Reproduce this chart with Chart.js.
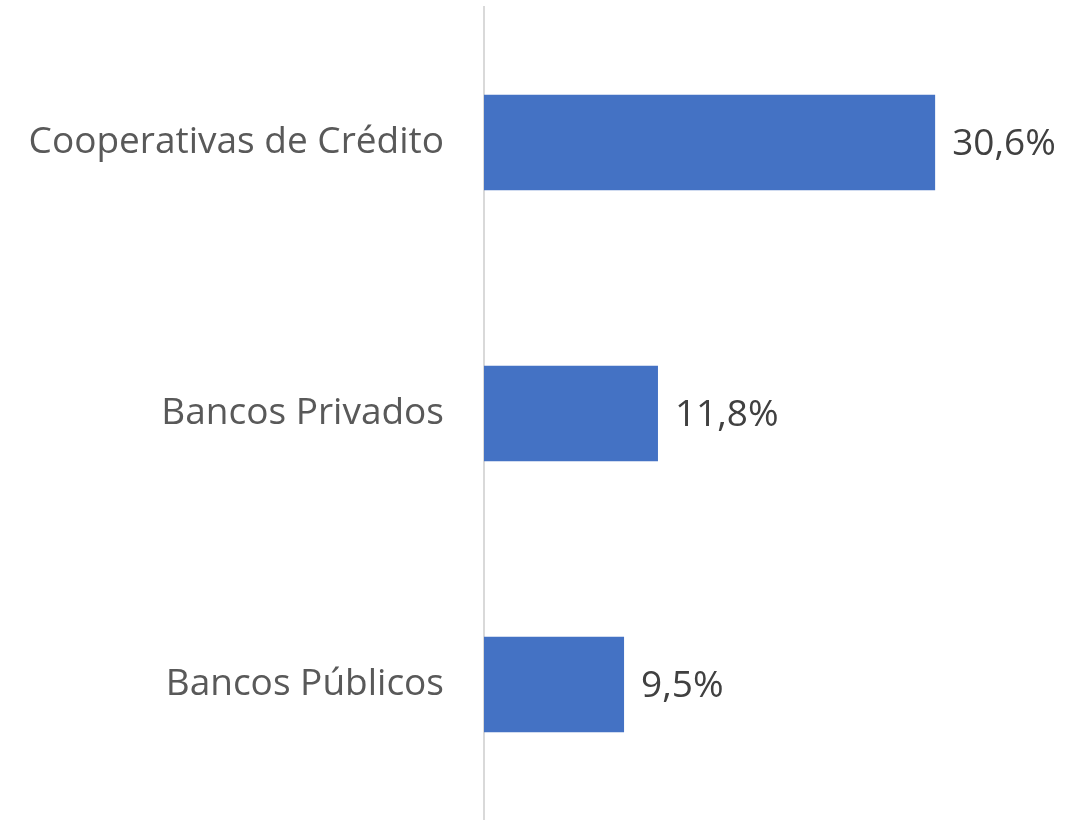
<!DOCTYPE html>
<html>
<head>
<meta charset="utf-8">
<script src="https://cdn.jsdelivr.net/npm/chart.js@4/dist/chart.umd.min.js"></script>
<style>
html,body{margin:0;padding:0;background:#fff;}
#wrap{width:1086px;height:820px;position:relative;}
</style>
</head>
<body>
<div id="wrap"><canvas id="c" width="1086" height="820"></canvas></div>
<script>
const categories = ["Cooperativas de Crédito", "Bancos Privados", "Bancos Públicos"];
const values = [30.6, 11.8, 9.5];
const valueLabels = ["30,6%", "11,8%", "9,5%"];

const FONT = "'Open Sans', 'Noto Sans', sans-serif";

const dataLabelPlugin = {
  id: 'dataLabels',
  afterDatasetsDraw(chart) {
    const ctx = chart.ctx;
    const meta = chart.getDatasetMeta(0);
    ctx.save();
    ctx.font = "37px " + FONT;
    ctx.fillStyle = "#404040";
    ctx.textAlign = "left";
    ctx.textBaseline = "middle";
    meta.data.forEach((bar, i) => {
      ctx.fillText(valueLabels[i], bar.x + 17, bar.y + 2);
    });
    ctx.restore();
  }
};

new Chart(document.getElementById('c'), {
  type: 'bar',
  data: {
    labels: categories,
    datasets: [{
      data: values,
      backgroundColor: '#4472C4',
      borderWidth: 0,
      categoryPercentage: 1,
      barPercentage: 0.353
    }]
  },
  options: {
    indexAxis: 'y',
    responsive: false,
    animation: false,
    devicePixelRatio: 1,
    layout: { padding: { top: 7, bottom: 0, right: 86, left: 0 } },
    plugins: { legend: { display: false }, tooltip: { enabled: false } },
    scales: {
      x: { display: false, min: 0, max: 35 },
      y: {
        grid: { display: false },
        border: { display: true, color: '#d9d9d9', width: 2 },
        ticks: { color: '#595959', font: { family: FONT, size: 37 }, padding: 32 },
        afterFit(scale) { scale.width = 484; scale.paddingTop = 0; scale.paddingBottom = 0; }
      }
    }
  },
  plugins: [dataLabelPlugin]
});
</script>
</body>
</html>
